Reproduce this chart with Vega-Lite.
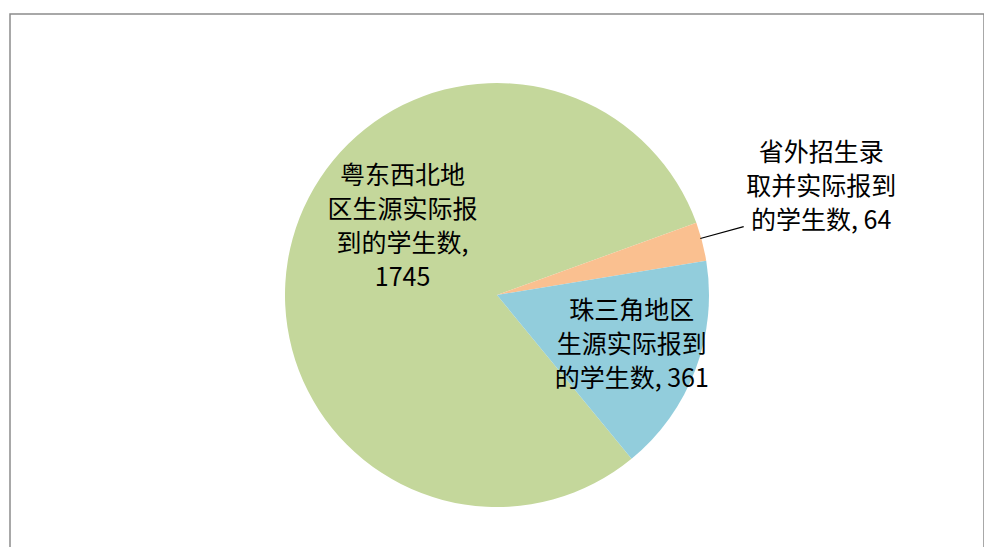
{
  "$schema": "https://vega.github.io/schema/vega-lite/v6.json",
  "autosize": "none",
  "padding": {"left": 10, "top": 14, "right": 0, "bottom": 0},
  "width": 974,
  "height": 562,
  "background": "white",
  "config": {
    "view": {"stroke": "#8c8c8c", "strokeWidth": 1.5},
    "text": {"font": "Noto Sans CJK SC"}
  },
  "data": {
    "values": [
      {"region": "粤东西北地区", "value": 1745, "order": 1, "label": "粤东西北地\n区生源实际报\n到的学生数,\n1745"},
      {"region": "省外招生", "value": 64, "order": 2, "label": "省外招生录\n取并实际报到\n的学生数, 64"},
      {"region": "珠三角地区", "value": 361, "order": 3, "label": "珠三角地区\n生源实际报到\n的学生数, 361"}
    ]
  },
  "layer": [
    {
      "transform": [{"filter": "datum.order === 1"}],
      "mark": {"type": "rect", "fill": null, "stroke": "#8c8c8c", "strokeWidth": 1.5},
      "encoding": {}
    },
    {
      "mark": {"type": "arc", "outerRadius": 212},
      "encoding": {
        "theta": {"field": "value", "type": "quantitative", "stack": true, "scale": {"range": [2.454, 8.7372]}},
        "order": {"field": "order", "type": "quantitative"},
        "color": {
          "field": "region", "type": "nominal", "legend": null,
          "scale": {"domain": ["粤东西北地区", "省外招生", "珠三角地区"], "range": ["#C4D79B", "#FAC090", "#92CDDC"]}
        }
      }
    },
    {
      "transform": [{"filter": "datum.region === '省外招生'"}],
      "mark": {"type": "arc", "theta": 1.2975, "theta2": 1.3025, "radius": 256, "radius2": 211, "fill": "black"},
      "encoding": {}
    },
    {
      "mark": {"type": "text", "radius": 100, "dy": -93, "dx": 2, "fontSize": 25, "lineHeight": 34, "lineBreak": "\n", "align": "center", "baseline": "middle", "color": "black"},
      "encoding": {
        "theta": {"field": "value", "type": "quantitative", "stack": true, "scale": {"range": [2.454, 8.7372]}},
        "order": {"field": "order", "type": "quantitative"},
        "detail": {"field": "region", "type": "nominal"},
        "text": {"condition": {"test": "datum.region === '粤东西北地区'", "field": "label"}, "value": ""}
      }
    },
    {
      "mark": {"type": "text", "radius": 335, "dy": -58, "fontSize": 25, "lineHeight": 34, "lineBreak": "\n", "align": "center", "baseline": "middle", "color": "black"},
      "encoding": {
        "theta": {"field": "value", "type": "quantitative", "stack": true, "scale": {"range": [2.454, 8.7372]}},
        "order": {"field": "order", "type": "quantitative"},
        "detail": {"field": "region", "type": "nominal"},
        "text": {"condition": {"test": "datum.region === '省外招生'", "field": "label"}, "value": ""}
      }
    },
    {
      "mark": {"type": "text", "radius": 144, "dy": -35, "fontSize": 25, "lineHeight": 34, "lineBreak": "\n", "align": "center", "baseline": "middle", "color": "black"},
      "encoding": {
        "theta": {"field": "value", "type": "quantitative", "stack": true, "scale": {"range": [2.454, 8.7372]}},
        "order": {"field": "order", "type": "quantitative"},
        "detail": {"field": "region", "type": "nominal"},
        "text": {"condition": {"test": "datum.region === '珠三角地区'", "field": "label"}, "value": ""}
      }
    }
  ]
}
